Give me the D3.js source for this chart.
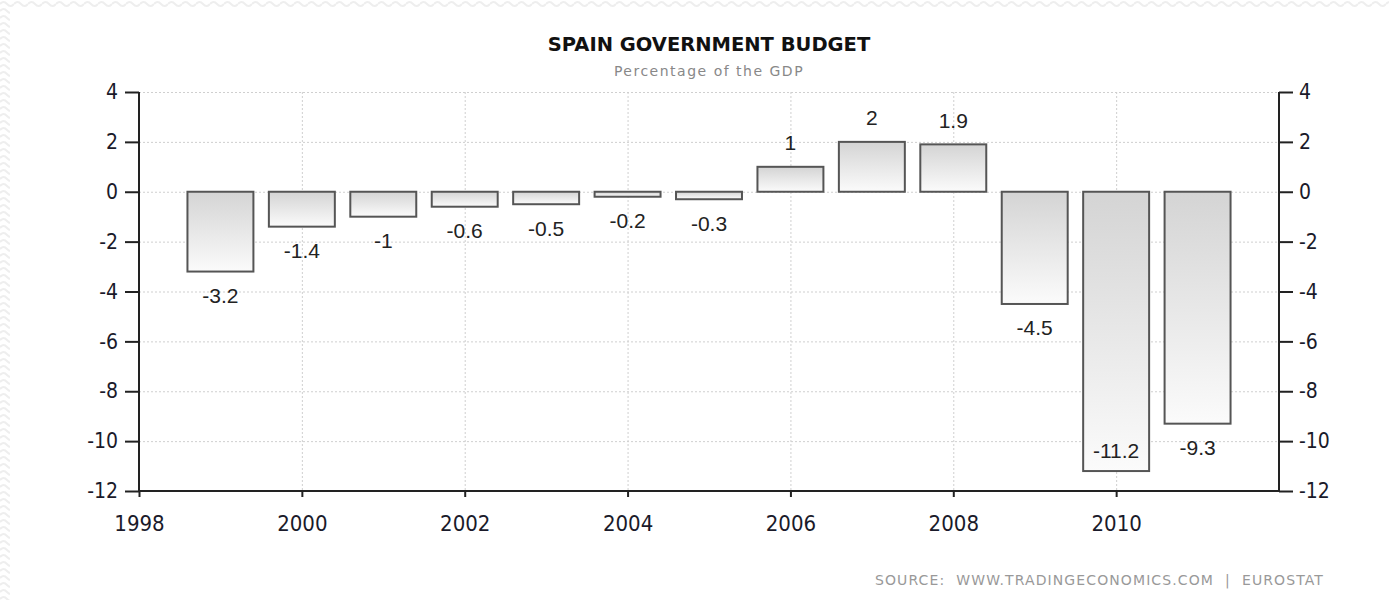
<!DOCTYPE html>
<html><head><meta charset="utf-8">
<script src="https://cdn.jsdelivr.net/npm/d3@7"></script>
<style>body{margin:0;background:#fff}svg{display:block}</style>
</head><body>
<script>
const years = [1999,2000,2001,2002,2003,2004,2005,2006,2007,2008,2009,2010,2011];
const values = [-3.2,-1.4,-1,-0.6,-0.5,-0.2,-0.3,1,2,1.9,-4.5,-11.2,-9.3];
const yTicks = [4,2,0,-2,-4,-6,-8,-10,-12];
const xTicks = [1998,2000,2002,2004,2006,2008,2010];
const title = "SPAIN GOVERNMENT BUDGET";
const subtitle = "Percentage of the GDP";
const source = "SOURCE:  WWW.TRADINGECONOMICS.COM  |  EUROSTAT";

const W = 1389, H = 600;
const m = {l:139, r:1279, t:92, b:491};
const svg = d3.select("body").append("svg").attr("width",W).attr("height",H);
const defs = svg.append("defs");

// faint wavy background border
const pat = defs.append("pattern").attr("id","wave").attr("patternUnits","userSpaceOnUse")
  .attr("width",14).attr("height",14);
pat.append("path").attr("d","M0,4 Q3.5,0 7,4 T14,4 M0,11 Q3.5,7 7,11 T14,11")
  .attr("fill","none").attr("stroke","#eeeeee").attr("stroke-width",2);
svg.append("rect").attr("x",0).attr("y",0).attr("width",W).attr("height",H).attr("fill","url(#wave)");
svg.append("rect").attr("x",10).attr("y",8).attr("width",W-10).attr("height",H-8).attr("fill","#fff");

const grad = defs.append("linearGradient").attr("id","bg").attr("x1",0).attr("y1",0).attr("x2",0).attr("y2",1);
grad.append("stop").attr("offset","0%").attr("stop-color","#d4d4d4");
grad.append("stop").attr("offset","100%").attr("stop-color","#fbfbfb");

const x = d3.scaleLinear().domain([1998,2012]).range([m.l,m.r]);
const y = d3.scaleLinear().domain([-12,4]).range([m.b,m.t]);

// grid
const g = svg.append("g");
g.selectAll(".hg").data(yTicks.filter(d=>d>-12)).join("line")
  .attr("x1",m.l).attr("x2",m.r).attr("y1",d=>y(d)+0.5).attr("y2",d=>y(d)+0.5)
  .attr("stroke","#cfcfcf").attr("stroke-dasharray","2,2");
g.selectAll(".vg").data(xTicks.filter(d=>d>1998)).join("line")
  .attr("y1",m.t).attr("y2",m.b).attr("x1",d=>x(d)+0.5).attr("x2",d=>x(d)+0.5)
  .attr("stroke","#cfcfcf").attr("stroke-dasharray","2,2");

// bars
const bw = (x(1999)-x(1998))*0.81;
svg.selectAll(".bar").data(years).join("rect")
  .attr("x",(d)=>x(d)-bw/2)
  .attr("width",bw)
  .attr("y",(d,i)=>y(Math.max(0,values[i])))
  .attr("height",(d,i)=>Math.abs(y(values[i])-y(0)))
  .attr("fill","url(#bg)").attr("stroke","#555").attr("stroke-width",2);

// value labels
svg.selectAll(".vl").data(years).join("text")
  .attr("x",d=>x(d))
  .attr("y",(d,i)=>{
    const v = values[i];
    if (v>=0) return y(v)-24;
    const yy = y(v)+24;
    return (yy+10>m.b) ? y(v)-20 : yy;
  })
  .attr("dy","0.35em")
  .attr("text-anchor","middle")
  .attr("font-family","Liberation Sans, Arial, sans-serif")
  .attr("font-size",21).attr("fill","#222")
  .text((d,i)=>String(values[i]));

// axes
const axC = "#222";
const fmt = d => String(d);
const left = svg.append("g").attr("transform",`translate(${m.l},0)`)
  .call(d3.axisLeft(y).tickValues(yTicks).tickSize(14).tickPadding(7).tickFormat(fmt));
const right = svg.append("g").attr("transform",`translate(${m.r},0)`)
  .call(d3.axisRight(y).tickValues(yTicks).tickSize(14).tickPadding(6).tickFormat(fmt));
const bottom = svg.append("g").attr("transform",`translate(0,${m.b})`)
  .call(d3.axisBottom(x).tickValues(xTicks).tickSize(6).tickPadding(18).tickFormat(fmt));
[left,right,bottom].forEach(a=>{
  a.select(".domain").attr("stroke",axC).attr("stroke-width",2);
  a.selectAll(".tick line").attr("stroke",axC).attr("stroke-width",2);
  a.selectAll("text").attr("fill","#1a1a2a").attr("font-family","DejaVu Sans Condensed, DejaVu Sans, sans-serif").attr("font-size",21);
});
left.select(".domain").attr("d",`M0,${m.t}V${m.b}`);
right.select(".domain").attr("d",`M0,${m.t}V${m.b}`);
bottom.select(".domain").attr("d",`M${m.l},0H${m.r}`);
bottom.selectAll("text").attr("font-size",22);

// titles
svg.append("text").attr("x",(m.l+m.r)/2).attr("y",51).attr("text-anchor","middle")
  .attr("font-family","DejaVu Sans, Verdana, sans-serif").attr("font-weight","bold")
  .attr("font-size",19.5).attr("fill","#111").text(title);
svg.append("text").attr("x",(m.l+m.r)/2).attr("y",76).attr("text-anchor","middle")
  .attr("font-family","DejaVu Sans, Verdana, sans-serif")
  .attr("font-size",14).attr("letter-spacing",1.5).attr("fill","#888").text(subtitle);
svg.append("text").attr("x",1324).attr("y",585).attr("text-anchor","end")
  .attr("font-family","DejaVu Sans, Verdana, sans-serif")
  .attr("font-size",14).attr("letter-spacing",1.1).attr("fill","#999").attr("xml:space","preserve")
  .style("white-space","pre").text(source);
</script>
</body></html>
